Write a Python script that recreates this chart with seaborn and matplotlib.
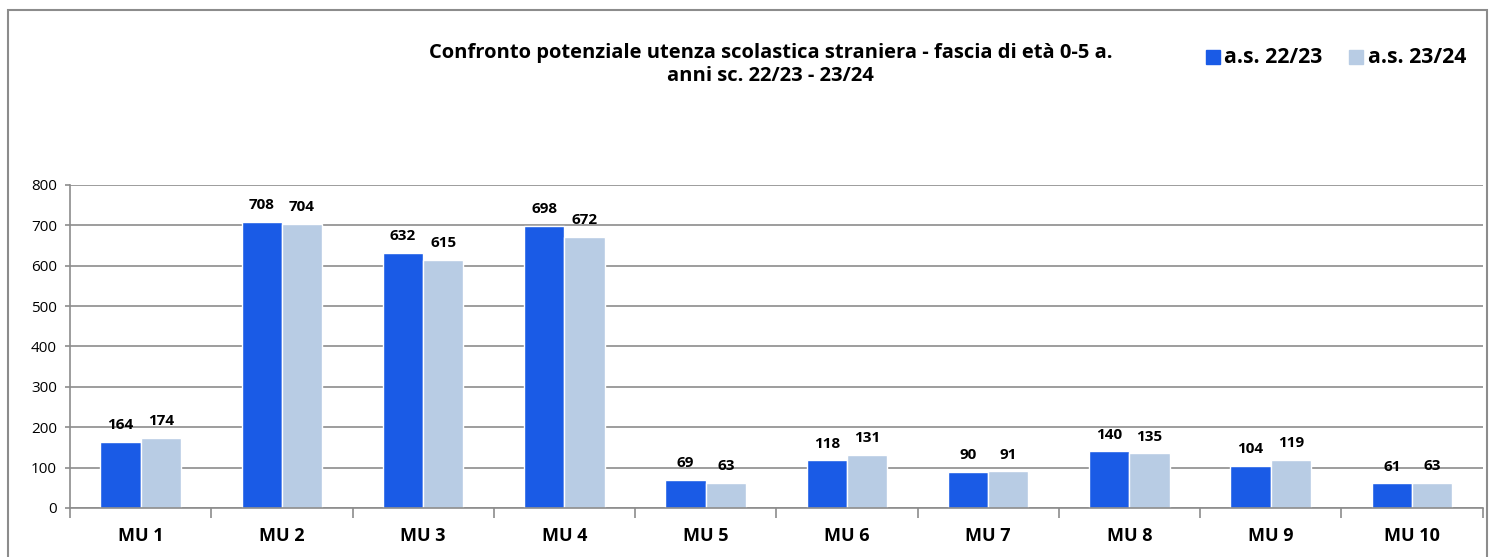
import pandas as pd
import matplotlib
matplotlib.use("Agg")
import matplotlib.pyplot as plt
import seaborn as sns
from matplotlib.patches import Rectangle

categories = ["MU 1", "MU 2", "MU 3", "MU 4", "MU 5", "MU 6", "MU 7", "MU 8", "MU 9", "MU 10"]
series_names = ["a.s. 22/23", "a.s. 23/24"]
values_2223 = [164, 708, 632, 698, 69, 118, 90, 140, 104, 61]
values_2324 = [174, 704, 615, 672, 63, 131, 91, 135, 119, 63]
y_ticks = [0, 100, 200, 300, 400, 500, 600, 700, 800]

df = pd.DataFrame({
    "zona": categories * 2,
    "anno": [series_names[0]] * len(categories) + [series_names[1]] * len(categories),
    "valore": values_2223 + values_2324,
})

sns.set_theme(style="white")
plt.rcParams["font.family"] = ["Open Sans", "DejaVu Sans"]
plt.rcParams["text.color"] = "black"
plt.rcParams["xtick.labelcolor"] = "black"
plt.rcParams["ytick.labelcolor"] = "black"

fig = plt.figure(figsize=(14.9, 5.57), dpi=100)
ax = fig.add_axes([0.047, 0.088, 0.948, 0.580])

palette = {"a.s. 22/23": "#1A5BE6", "a.s. 23/24": "#B8CCE4"}
sns.barplot(data=df, x="zona", y="valore", hue="anno", palette=palette,
            width=0.57, gap=0, saturation=1, ax=ax, legend=False)

for cont in ax.containers:
    ax.bar_label(cont, padding=7, fontsize=11, fontweight="bold", color="black")

ax.set_ylim(0, 800)
ax.set_yticks(y_ticks)
ax.set_xlim(-0.5, len(categories) - 0.5)
ax.set_xlabel("")
ax.set_ylabel("")
ax.yaxis.grid(True, color="#8C8C8C", linewidth=1.2)
ax.set_axisbelow(True)
for s in ["top", "right"]:
    ax.spines[s].set_visible(False)
for s in ["left", "bottom"]:
    ax.spines[s].set_color("#8C8C8C")
    ax.spines[s].set_linewidth(1.2)

ax.tick_params(axis="y", left=True, length=3.5, width=1.2, color="#8C8C8C", labelsize=11, pad=6)
ax.tick_params(axis="x", which="major", bottom=False, labelsize=13, pad=8)
ax.set_xticks([i - 0.5 for i in range(len(categories) + 1)], minor=True)
ax.tick_params(axis="x", which="minor", bottom=True, length=7, width=1.2, color="#8C8C8C")
for lbl in ax.get_xticklabels():
    lbl.set_fontweight("bold")

fig.text(0.517, 0.884, "Confronto potenziale utenza scolastica straniera - fascia di età 0-5 a.\nanni sc. 22/23 - 23/24",
         ha="center", va="center", fontsize=14.5, fontweight="bold", linespacing=1.25, color="black")

# legenda
fig.patches.append(Rectangle((0.8094, 0.885), 0.0094, 0.025, transform=fig.transFigure,
                             color=palette["a.s. 22/23"]))
fig.text(0.8215, 0.897, series_names[0], ha="left", va="center", fontsize=15.3, fontweight="bold")
fig.patches.append(Rectangle((0.9054, 0.885), 0.0094, 0.025, transform=fig.transFigure,
                             color=palette["a.s. 23/24"]))
fig.text(0.918, 0.897, series_names[1], ha="left", va="center", fontsize=15.3, fontweight="bold")

# cornice esterna
fig.patches.append(Rectangle((0.0054, -0.02), 0.9925, 1.002, transform=fig.transFigure,
                             fill=False, edgecolor="#8C8C8C", linewidth=1.5))

fig.savefig("out.png", dpi=100)
